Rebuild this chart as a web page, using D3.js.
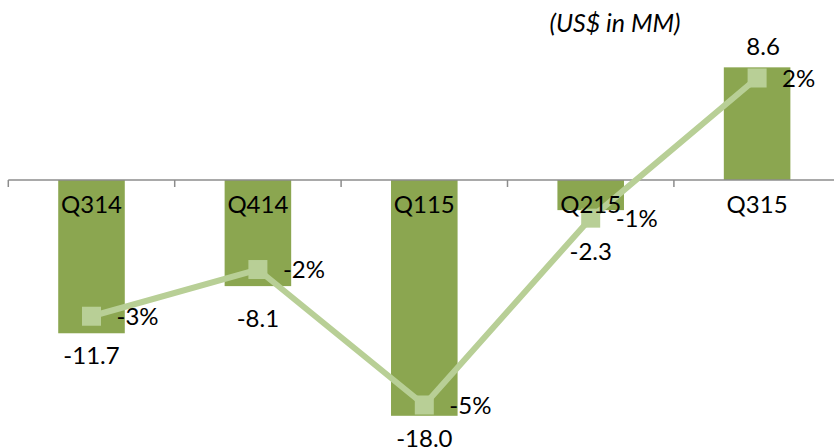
<!DOCTYPE html>
<html>
<head>
<meta charset="utf-8">
<script src="https://cdn.jsdelivr.net/npm/d3@7"></script>
<style>
  html, body { margin: 0; padding: 0; background: #fff; }
  svg { display: block; }
  text { font-family: Lato, "Open Sans", sans-serif; fill: #000; }
</style>
</head>
<body>
<svg id="chart" width="834" height="447"></svg>
<script>
// ---- data ----
const categories = ["Q314", "Q414", "Q115", "Q215", "Q315"];
const values = [-11.7, -8.1, -18.0, -2.3, 8.6];          // US$ MM (bars)
const pctValues = [-3.1, -2.1, -5.0, -1.0, 2.0];          // % (line)
const unitLabel = "(US$ in MM)";

// ---- layout ----
const W = 834, H = 447;
const axisLeft = 8.3, axisRight = 840.3;
const barColor = "#8ba650", lineColor = "#b8cf96", axisColor = "#8c8c8c";
// vertical nudges for bar value labels (Excel manual placement)
const valueLabelDy = [22, 32, 23, 41, -21];

const svg = d3.select("#chart");

const x = d3.scaleBand().domain(categories).range([axisLeft, axisRight])
  .paddingInner(0.6).paddingOuter(0.3);
const y = d3.scaleLinear().domain([-20, 10]).range([442, 49]);
const yPct = d3.scaleLinear().domain([-5, 2]).range([405, 78]);
const cx = c => x(c) + x.bandwidth() / 2;

// bars
svg.append("g").selectAll("rect").data(values).join("rect")
  .attr("x", (d, i) => x(categories[i]))
  .attr("width", x.bandwidth())
  .attr("y", d => y(Math.max(0, d)))
  .attr("height", d => Math.abs(y(d) - y(0)))
  .attr("fill", barColor);

// category axis line + ticks
const step = x.step();
const axisG = svg.append("g");
axisG.append("line")
  .attr("x1", axisLeft).attr("x2", axisRight)
  .attr("y1", y(0)).attr("y2", y(0))
  .attr("stroke", axisColor).attr("stroke-width", 1.5);
const tickXs = d3.range(categories.length + 1).map(i => axisLeft + i * step);
axisG.selectAll("line.tick").data(tickXs).join("line")
  .attr("class", "tick")
  .attr("x1", d => d).attr("x2", d => d)
  .attr("y1", y(0)).attr("y2", y(0) + 7)
  .attr("stroke", axisColor).attr("stroke-width", 1.5);

// line
const line = d3.line()
  .x((d, i) => cx(categories[i]))
  .y(d => yPct(d));
svg.append("path").datum(pctValues)
  .attr("d", line)
  .attr("fill", "none")
  .attr("stroke", lineColor)
  .attr("stroke-width", 6)
  .attr("stroke-linejoin", "round");
const ms = 19;
svg.append("g").selectAll("rect").data(pctValues).join("rect")
  .attr("x", (d, i) => cx(categories[i]) - ms / 2)
  .attr("y", d => yPct(d) - ms / 2)
  .attr("width", ms).attr("height", ms)
  .attr("fill", lineColor);

// category labels (drawn above the line, as in the reference)
svg.append("g").selectAll("text").data(categories).join("text")
  .attr("x", d => cx(d)).attr("y", y(0) + 33)
  .attr("text-anchor", "middle")
  .attr("font-size", 24)
  .text(d => d);

// pct labels
svg.append("g").selectAll("text").data(pctValues).join("text")
  .attr("x", (d, i) => cx(categories[i]) + 25)
  .attr("y", d => yPct(d))
  .attr("dy", "0.36em")
  .attr("font-size", 24)
  .text(d => Math.round(d) + "%");

// value labels
svg.append("g").selectAll("text").data(values).join("text")
  .attr("x", (d, i) => cx(categories[i]) + (d > 0 ? 6 : 0))
  .attr("y", (d, i) => y(d) + valueLabelDy[i])
  .attr("dy", "0.36em")
  .attr("text-anchor", "middle")
  .attr("font-size", 24)
  .text(d => d.toFixed(1));

// unit label
svg.append("text")
  .attr("x", 615).attr("y", 23)
  .attr("dy", "0.36em")
  .attr("text-anchor", "middle")
  .attr("font-size", 25)
  .attr("font-style", "italic")
  .text(unitLabel);
</script>
</body>
</html>
